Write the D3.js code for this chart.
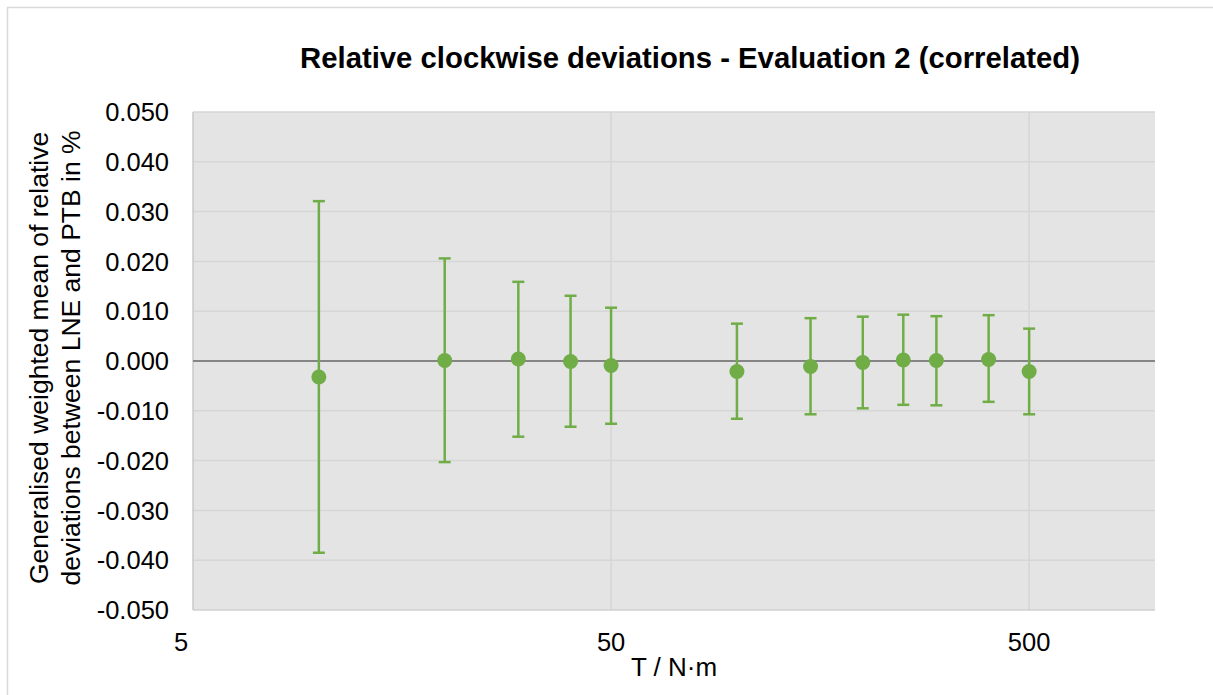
<!DOCTYPE html>
<html>
<head>
<meta charset="utf-8">
<script src="https://cdn.jsdelivr.net/npm/d3@7"></script>
<style>
  body { margin: 0; background: #fff; }
  text { font-family: Arial, "Liberation Sans", sans-serif; fill: #000; }
</style>
</head>
<body>
<script>
// torque steps in N·m
const torque = [10, 20, 30, 40, 50, 100, 150, 200, 250, 300, 400, 500];
// generalised weighted mean of relative deviations (%)
const meanDev = [-0.0032, 0.0001, 0.0004, -0.0001, -0.0009, -0.0021, -0.0011, -0.0003, 0.0002, 0.0001, 0.0003, -0.0021];
// error bar ends
const upper = [0.0321, 0.0206, 0.0159, 0.0131, 0.0107, 0.0075, 0.0086, 0.0089, 0.0093, 0.0090, 0.0092, 0.0065];
const lower = [-0.0385, -0.0203, -0.0152, -0.0132, -0.0126, -0.0116, -0.0107, -0.0095, -0.0088, -0.0089, -0.0082, -0.0107];

const xTicks = [5, 50, 500];
const xTickLabels = ["5", "50", "500"];
const yTicks = [-0.05, -0.04, -0.03, -0.02, -0.01, 0, 0.01, 0.02, 0.03, 0.04, 0.05];
const yTickLabels = ["-0.050", "-0.040", "-0.030", "-0.020", "-0.010", "0.000", "0.010", "0.020", "0.030", "0.040", "0.050"];

const W = 1213, H = 695;
const plot = {left: 193, right: 1155, top: 112, bottom: 610};
const green = "#70ad47";

const svg = d3.select("body").append("svg").attr("width", W).attr("height", H);

// outer chart border
svg.append("rect").attr("x", 7.5).attr("y", 7.5).attr("width", W + 10).attr("height", H + 10)
  .attr("fill", "#fff").attr("stroke", "#d9d9d9").attr("stroke-width", 1.5);

const x = d3.scaleLog().domain([5, 1000]).range([plot.left, plot.right]);
const y = d3.scaleLinear().domain([-0.05, 0.05]).range([plot.bottom, plot.top]);

// plot area
svg.append("rect").attr("x", plot.left).attr("y", plot.top)
  .attr("width", plot.right - plot.left).attr("height", plot.bottom - plot.top)
  .attr("fill", "#e4e4e4");

// gridlines
svg.append("g").selectAll("line").data(yTicks.filter(d => d !== 0 && d !== -0.05)).enter().append("line")
  .attr("x1", plot.left).attr("x2", plot.right)
  .attr("y1", d => y(d)).attr("y2", d => y(d))
  .attr("stroke", "#d6d6d6").attr("stroke-width", 1.5);
svg.append("g").selectAll("line").data(xTicks.slice(1)).enter().append("line")
  .attr("x1", d => x(d)).attr("x2", d => x(d))
  .attr("y1", plot.top).attr("y2", plot.bottom)
  .attr("stroke", "#d6d6d6").attr("stroke-width", 1.5);

// axis lines
svg.append("line").attr("x1", plot.left).attr("x2", plot.left).attr("y1", plot.top).attr("y2", plot.bottom)
  .attr("stroke", "#c8c8c8").attr("stroke-width", 1.5);
svg.append("line").attr("x1", plot.left).attr("x2", plot.right).attr("y1", plot.bottom).attr("y2", plot.bottom)
  .attr("stroke", "#d0d0d0").attr("stroke-width", 1.5);
svg.append("line").attr("x1", plot.left).attr("x2", plot.right).attr("y1", y(0)).attr("y2", y(0))
  .attr("stroke", "#858585").attr("stroke-width", 2);

// y tick labels
svg.append("g").selectAll("text").data(yTicks).enter().append("text")
  .attr("x", 169).attr("y", d => y(d)).attr("dy", "0.36em")
  .attr("text-anchor", "end").style("font-size", "25.5px")
  .text((d, i) => yTickLabels[i]);

// x tick labels
svg.append("g").selectAll("text").data(xTicks).enter().append("text")
  .attr("x", (d, i) => x(d) - (i === 0 ? 12 : 0)).attr("y", 651)
  .attr("text-anchor", "middle").style("font-size", "25.5px")
  .text((d, i) => xTickLabels[i]);

// error bars
const bars = svg.append("g").selectAll("g").data(torque).enter().append("g");
bars.append("line")
  .attr("x1", d => x(d)).attr("x2", d => x(d))
  .attr("y1", (d, i) => y(upper[i])).attr("y2", (d, i) => y(lower[i]))
  .attr("stroke", green).attr("stroke-width", 2.5);
bars.append("line")
  .attr("x1", d => x(d) - 6).attr("x2", d => x(d) + 6)
  .attr("y1", (d, i) => y(upper[i])).attr("y2", (d, i) => y(upper[i]))
  .attr("stroke", green).attr("stroke-width", 2.5);
bars.append("line")
  .attr("x1", d => x(d) - 6).attr("x2", d => x(d) + 6)
  .attr("y1", (d, i) => y(lower[i])).attr("y2", (d, i) => y(lower[i]))
  .attr("stroke", green).attr("stroke-width", 2.5);

// markers
svg.append("g").selectAll("circle").data(torque).enter().append("circle")
  .attr("cx", d => x(d)).attr("cy", (d, i) => y(meanDev[i])).attr("r", 7.5)
  .attr("fill", green);

// title
svg.append("text").attr("x", 690).attr("y", 68).attr("text-anchor", "middle")
  .style("font-size", "29.3px").style("font-weight", "bold")
  .text("Relative clockwise deviations - Evaluation 2 (correlated)");

// axis titles
svg.append("text").attr("x", 674).attr("y", 676).attr("text-anchor", "middle")
  .style("font-size", "26px").text("T / N·m");

const yTitle = svg.append("text").attr("transform", "translate(48,358) rotate(-90)")
  .attr("text-anchor", "middle").style("font-size", "26.5px");
yTitle.append("tspan").attr("x", 0).attr("y", 0).text("Generalised weighted mean of relative");
yTitle.append("tspan").attr("x", 0).attr("y", 31.5).text("deviations between LNE and PTB in %");
</script>
</body>
</html>
